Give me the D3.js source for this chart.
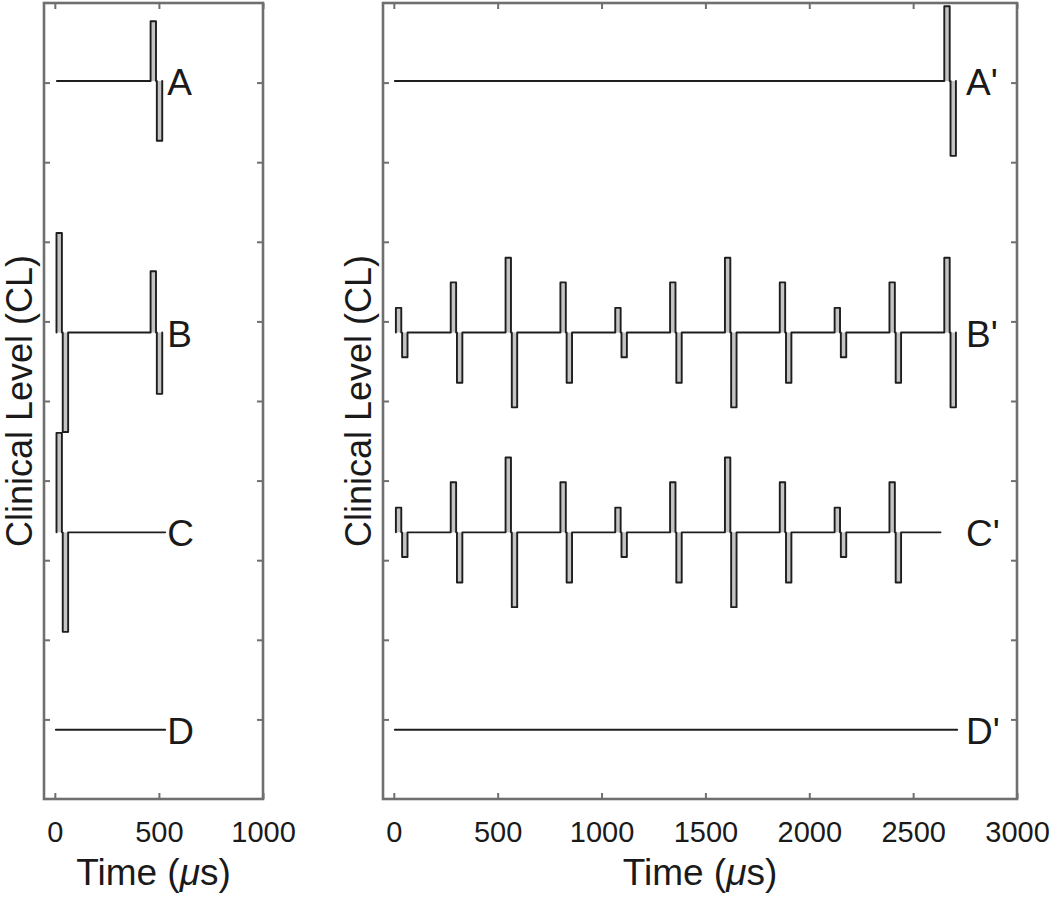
<!DOCTYPE html>
<html>
<head>
<meta charset="utf-8">
<script src="https://cdn.jsdelivr.net/npm/d3@7"></script>
<style>
  html, body { margin: 0; padding: 0; background: #fff; }
  svg { display: block; }
  text { font-family: "Liberation Sans", Arial, Helvetica, sans-serif; fill: #1a1a1a; }
</style>
</head>
<body>
<svg id="chart" width="1050" height="898"></svg>
<script>
// ---------------- data ----------------
const leftTicks = [0, 500, 1000];
const rightTicks = [0, 500, 1000, 1500, 2000, 2500, 3000];
const yTicks = [1, 2, 3, 4, 5, 6, 7, 8, 9];

const leftNames = ["A", "B", "C", "D"];
const rightNames = ["A'", "B'", "C'", "D'"];
const baselines = [9.02, 5.86, 3.35, 0.87];   // trace offsets (CL units)

// left panel traces (time in µs)
const leftStart = [10, 8, 8, 5];
const leftEnd = [516, 516, 530, 530];
const pulseA_times = [460];
const pulseA_amps = [0.75];
const pulseB_times = [8, 460];
const pulseB_amps = [1.25, 0.77];
const pulseC_times = [8];
const pulseC_amps = [1.25];
const pulseD_times = [];
const pulseD_amps = [];

// right panel pulse train
const trainTimes = [10, 274, 538, 802, 1066, 1330, 1594, 1858, 2122, 2386, 2650];
const trainAmps = [0.31, 0.63, 0.94, 0.63, 0.31, 0.63, 0.94, 0.63, 0.31, 0.63, 0.94];
const rightStart = [5, 10, 10, 5];
const rightEnd = [2706, 2706, 2632, 2712];

const phaseWidth = 26;   // µs
const interPhase = 4;    // µs

// ---------------- layout ----------------
const svg = d3.select("#chart");
const yScale = d3.scaleLinear().domain([0, 10]).range([799, 3]);
const panels = [
  { x: d3.scaleLinear().domain([-52, 1000]).range([44, 263]), ticks: leftTicks, names: leftNames,
    start: leftStart, end: leftEnd,
    pulses: [[pulseA_times, pulseA_amps], [pulseB_times, pulseB_amps], [pulseC_times, pulseC_amps], [pulseD_times, pulseD_amps]],
    labelT: 540 },
  { x: d3.scaleLinear().domain([-52, 3000]).range([383, 1017]), ticks: rightTicks, names: rightNames,
    start: rightStart, end: rightEnd,
    pulses: [[trainTimes.slice(10), trainAmps.slice(10)], [trainTimes, trainAmps],
             [trainTimes.slice(0, 10), trainAmps.slice(0, 10)], [[], []]],
    labelT: 2755 }
];

function tracePoints(t0, t1, base, times, amps) {
  const pts = [[t0, base]];
  times.forEach((t, i) => {
    const a = amps[i];
    const p2 = t + phaseWidth, p3 = p2 + interPhase, p4 = p3 + phaseWidth;
    pts.push([t, base], [t, base + a], [p2, base + a], [p2, base],
             [p3, base], [p3, base - a], [p4, base - a], [p4, base]);
  });
  const last = pts[pts.length - 1][0];
  if (t1 > last) pts.push([t1, base]);
  return pts;
}

const frameColor = "#6f6f6f";

panels.forEach(p => {
  const x = p.x;
  const [x0, x1] = x.range();
  const g = svg.append("g");

  // traces
  p.names.forEach((name, i) => {
    const base = baselines[i];
    const [times, amps] = p.pulses[i];
    // light fill inside each phase
    times.forEach((t, k) => {
      const a = amps[k];
      g.append("rect")
        .attr("x", x(t)).attr("width", x(t + phaseWidth) - x(t))
        .attr("y", yScale(base + a)).attr("height", yScale(base) - yScale(base + a))
        .attr("fill", "#c4c4c4");
      const t3 = t + phaseWidth + interPhase;
      g.append("rect")
        .attr("x", x(t3)).attr("width", x(t3 + phaseWidth) - x(t3))
        .attr("y", yScale(base)).attr("height", yScale(base - a) - yScale(base))
        .attr("fill", "#c4c4c4");
    });
    const pts = tracePoints(p.start[i], p.end[i], base, times, amps);
    g.append("path")
      .attr("d", d3.line().x(d => x(d[0])).y(d => yScale(d[1]))(pts))
      .attr("fill", "none")
      .attr("stroke", "#1e1e1e")
      .attr("stroke-width", 1.9)
      .attr("stroke-linejoin", "round")
      .attr("stroke-linecap", "round");
    g.append("text")
      .attr("x", x(p.labelT))
      .attr("y", yScale(base) + 14)
      .attr("font-size", 37)
      .text(name);
  });

  // axes (ticks inward, box on)
  const bottom = g.append("g").attr("transform", `translate(0,${yScale.range()[0]})`)
    .call(d3.axisBottom(x).tickValues(p.ticks).tickFormat(d3.format("d"))
      .tickSizeInner(-6).tickSizeOuter(0).tickPadding(22));
  const top = g.append("g").attr("transform", `translate(0,${yScale.range()[1]})`)
    .call(d3.axisTop(x).tickValues(p.ticks).tickSizeInner(-6).tickSizeOuter(0).tickFormat(""));
  const left = g.append("g").attr("transform", `translate(${x0},0)`)
    .call(d3.axisLeft(yScale).tickValues(yTicks).tickSizeInner(-6).tickSizeOuter(0).tickFormat(""));
  const right = g.append("g").attr("transform", `translate(${x1},0)`)
    .call(d3.axisRight(yScale).tickValues(yTicks).tickSizeInner(-6).tickSizeOuter(0).tickFormat(""));
  [bottom, top, left, right].forEach(a => {
    a.select(".domain").remove();
    a.selectAll(".tick line").attr("stroke", frameColor).attr("stroke-width", 2);
  });
  bottom.selectAll(".tick text")
    .attr("font-size", 29)
    .attr("font-family", "'Liberation Sans', Arial, sans-serif")
    .attr("fill", "#1a1a1a");

  g.append("rect")
    .attr("x", x0).attr("y", yScale.range()[1])
    .attr("width", x1 - x0).attr("height", yScale.range()[0] - yScale.range()[1])
    .attr("fill", "none").attr("stroke", frameColor).attr("stroke-width", 2.6);

  // axis titles
  const xt = g.append("text")
    .attr("x", (x0 + x1) / 2).attr("y", 885)
    .attr("text-anchor", "middle").attr("font-size", 37);
  xt.append("tspan").text("Time (");
  xt.append("tspan").attr("font-style", "italic").text("\u03BC");
  xt.append("tspan").text("s)");

  g.append("text")
    .attr("transform", `translate(${x0 - 12},${(yScale.range()[0] + yScale.range()[1]) / 2}) rotate(-90)`)
    .attr("text-anchor", "middle").attr("font-size", 36)
    .text("Clinical Level (CL)");
});
</script>
</body>
</html>
